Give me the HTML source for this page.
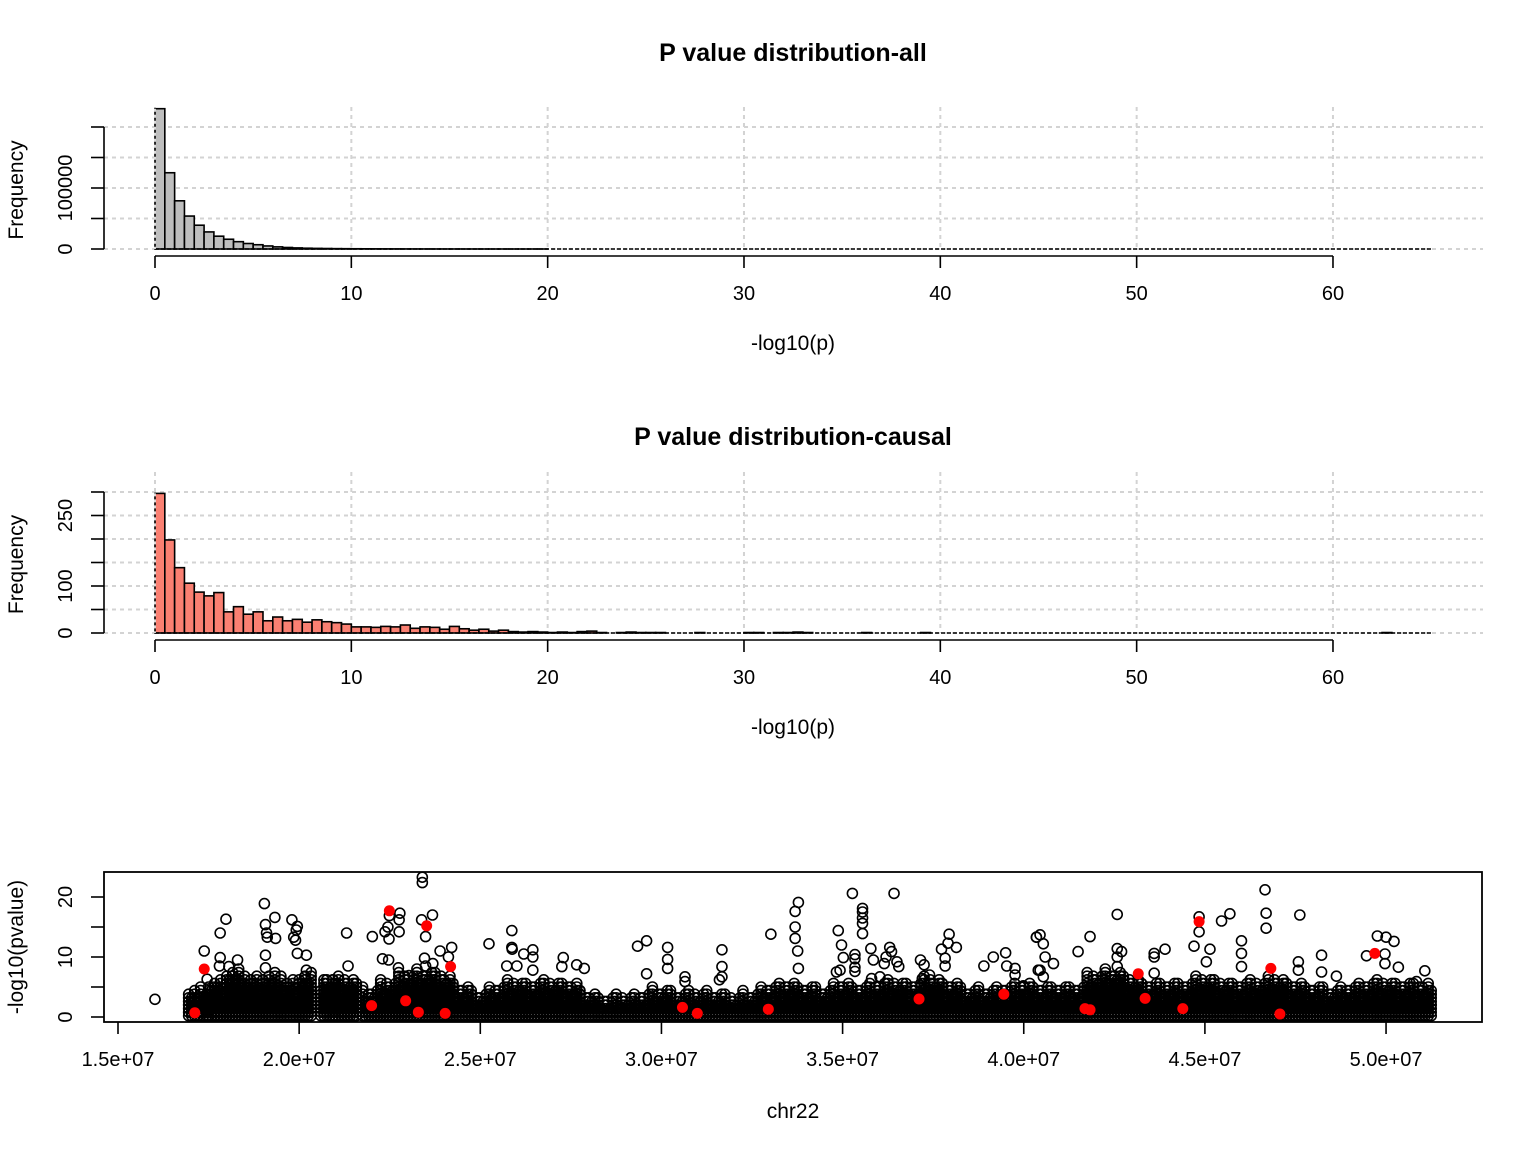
<!DOCTYPE html>
<html><head><meta charset="utf-8"><style>
html,body{margin:0;padding:0;background:#fff;}
svg{display:block;font-family:"Liberation Sans",Arial,sans-serif;}
</style></head><body>
<svg id="chart" width="1536" height="1152" viewBox="0 0 1536 1152" xmlns="http://www.w3.org/2000/svg">
<rect width="1536" height="1152" fill="#fff"/>
<g id="h1"></g>
<g id="h2"></g>
<g id="mh"></g>
</svg>
<script>
// ---- data ----
const binWidth = 0.5;
const allCounts = [230000,125000,79000,54000,39000,28000,21000,16000,12000,9000,7000,5000,3500,2500,1800,1300,1000,800,600,500,400,330,270,220,180,150,120,100,80,70,60,50,40,35,30,25,20,18,15,12];
const causalCounts = [297,198,139,106,87,79,86,45,56,40,45,26,34,26,29,23,28,24,22,19,13,13,12,14,13,17,10,13,12,8,14,9,6,8,4,6,3,2,3,2,1,2,1,3,4,1,0,1,2,1,1,1,0,0,0,1,0,0,0,0,1,1,0,1,1,2,1,0,0,0,0,0,1,0,0,0,0,0,1,0,0,0,0,0,0,0,0,0,0,0,0,0,0,0,0,0,0,0,0,0,0,0,0,0,0,0,0,0,0,0,0,0,0,0,0,0,0,0,0,0,0,0,0,0,0,1,0,0,0,0];
const histXTicks = [0,10,20,30,40,50,60];
const allYTicks = [0,50000,100000,150000,200000];
const allYLabels = ["0","","100000","",""];
const causalYTicks = [0,50,100,150,200,250,300];
const causalYLabels = ["0","","100","","","250",""];
// Manhattan: positions in Mb, values -log10(p)
const outPos = [16.02,17.38,17.46,17.82,17.98,17.82,17.8,18.06,18.3,19.04,19.07,19.1,19.12,19.35,19.33,19.07,19.07,19.8,19.95,19.85,19.9,19.92,19.95,20.2,20.2,20.15,21.31,21.35,20.76,20.94,22.02,22.37,22.48,22.45,22.78,22.76,22.76,22.49,22.3,22.47,22.74,22.9,23.03,23.4,23.4,23.38,23.68,23.49,23.46,23.49,23.69,23.89,24.21,24.12,25.24,25.87,25.87,25.88,26.2,26.45,26.45,25.73,26.01,26.45,27.29,27.25,27.66,27.87,29.34,29.59,29.59,30.17,30.17,30.17,30.65,30.65,31.67,31.67,31.67,31.6,33.02,33.69,33.78,33.69,33.69,33.76,33.78,35.27,35.55,35.55,35.55,35.55,35.55,34.88,34.97,35.02,34.93,34.83,35.34,35.34,35.34,35.34,35.78,35.85,36.03,35.8,36.42,36.3,36.35,36.2,36.15,36.5,36.55,37.15,37.25,37.4,37.2,37.94,37.91,37.73,38.14,37.83,37.83,39.5,39.16,38.9,39.53,39.76,39.76,39.99,40.35,40.4,40.35,40.45,40.54,40.59,40.82,40.45,40.54,41.83,41.5,42.58,42.58,42.58,42.7,42.58,43.6,43.6,43.9,43.6,44.84,44.84,44.7,45.46,45.69,45.14,45.04,46.01,46.01,46.01,46.66,46.69,46.69,47.62,47.58,47.58,48.22,48.22,48.63,49.76,50.0,50.22,49.97,49.46,49.97,50.34,51.07,50.84];
const outVal = [2.95,11,6.3,14,16.3,9.9,8.5,8.4,9.5,18.9,15.4,14,13.3,13.1,16.6,10.3,8.2,16.2,15.1,13.3,12.8,14.5,10.6,10.3,7.8,6.7,14,8.5,6.2,6.2,13.4,14.2,13,15,17.3,16.2,14.2,16.9,9.7,9.5,8.2,6.7,6.9,23.3,22.4,16.2,17,13.4,9.8,8.5,8.9,11,11.6,10,12.2,14.4,11.6,11.3,10.5,11.2,10,8.5,8.5,7.8,9.9,8.4,8.7,8.1,11.8,12.7,7.2,11.6,9.6,8.1,6.7,5.9,11.2,8.4,6.7,6.2,13.8,17.6,19.1,15,13.1,11,8.1,20.6,18.1,17.5,16.5,15.6,13.9,14.4,12,9.9,7.8,7.5,10.4,9.7,8.3,7.6,11.4,9.5,6.7,6.4,20.6,11.6,10.9,10,8.9,9.2,8.4,9.5,8.7,7,6.4,13.8,12.3,11.3,11.6,9.8,8.5,10.7,10,8.5,8.5,8.1,7,5.2,13.3,7.8,13.3,13.7,12.2,10,8.9,7.8,6.7,13.4,10.9,17.1,11.4,10,10.9,8.4,10,10.6,11.3,7.3,16.7,14.2,11.8,16,17.2,11.3,9.2,12.7,10.6,8.4,21.2,17.3,14.8,17,9.2,7.8,10.3,7.5,6.8,13.5,13.3,12.6,10.5,10.2,8.9,8.3,7.7,5.9];
const causalPos = [17.12,17.38,22.0,22.49,22.94,23.29,23.52,24.18,24.03,30.58,30.99,32.95,37.11,39.45,41.69,41.83,43.16,43.35,44.39,44.84,46.82,47.07,49.69];
const causalVal = [0.7,8.0,1.9,17.7,2.7,0.8,15.2,8.4,0.6,1.6,0.6,1.3,3.0,3.8,1.4,1.2,7.2,3.1,1.4,15.9,8.1,0.5,10.6];
// dense band bins: [startMb, endMb, upper envelope value]
const bandStart = [16.95,17.5,18.0,18.5,19.0,19.5,20.0,20.6,21.0,21.75,22.25,22.75,23.25,23.75,24.25,24.75,25.25,25.75,26.25,26.75,27.25,27.75,28.25,28.75,29.25,29.75,30.25,30.75,31.25,31.75,32.25,32.75,33.25,33.75,34.25,34.75,35.25,35.75,36.25,36.75,37.25,37.75,38.25,38.75,39.25,39.75,40.25,40.75,41.25,41.75,42.25,42.75,43.25,43.75,44.25,44.75,45.25,45.75,46.25,46.75,47.25,47.75,48.25,48.75,49.25,49.75,50.25,50.75];
const bandEnd = [17.5,18.0,18.5,19.0,19.5,20.0,20.4,21.0,21.6,22.25,22.75,23.25,23.75,24.25,24.75,25.25,25.75,26.25,26.75,27.25,27.75,28.25,28.75,29.25,29.75,30.25,30.75,31.25,31.75,32.25,32.75,33.25,33.75,34.25,34.75,35.25,35.75,36.25,36.75,37.25,37.75,38.25,38.75,39.25,39.75,40.25,40.75,41.25,41.75,42.25,42.75,43.25,43.75,44.25,44.75,45.25,45.75,46.25,46.75,47.25,47.75,48.25,48.75,49.25,49.75,50.25,50.75,51.25];
const bandTop = [4,5.5,7,6,6.5,5.5,6.5,6,6,4,5.5,6.5,7,6.5,4.5,3.5,4.5,5.5,5,5.5,5,3.5,2.8,3,3.2,4,3.5,3.8,3.5,3,3.5,4.5,5,4.5,4,5,4.5,5,5.5,5,6,5,4,4,4.5,5,4.5,4.5,4.5,6.5,7,6,5,5,5,6,5.5,5,5.5,6,5,4.5,4,4.5,5,5.5,5,5];
const mXTicks = [15,20,25,30,35,40,45,50];
const mXLabels = ["1.5e+07","2.0e+07","2.5e+07","3.0e+07","3.5e+07","4.0e+07","4.5e+07","5.0e+07"];
const mYTicks = [0,5,10,15,20];
const mYLabels = ["0","","10","","20"];

const NS = "http://www.w3.org/2000/svg";
function mk(parent, tag, attrs, text){
  const e = document.createElementNS(NS, tag);
  for (const k in attrs) e.setAttribute(k, attrs[k]);
  if (text !== undefined) e.textContent = text;
  parent.appendChild(e);
  return e;
}
const FS = 20;

function histogram(gid, counts, yTicks, yLabels, fill, base, yScale, yTop, titleY, title){
  const g = document.getElementById(gid);
  const xs = v => 155 + v * 19.633;
  const ys = v => base - v * yScale;
  const gridTop = ys(yTicks[yTicks.length-1]) - 20;
  for (const t of yTicks){
    const l = mk(g,'line',{x1:104,x2:1483,y1:ys(t),y2:ys(t),stroke:'#d3d3d3','stroke-width':2,'stroke-dasharray':'4,4'});
    
    
  }
  for (const t of histXTicks){
    const l = mk(g,'line',{x1:xs(t),x2:xs(t),y1:gridTop,y2:base,stroke:'#d3d3d3','stroke-width':2,'stroke-dasharray':'4,4'});
    
    
  }
  counts.forEach((c,i)=>{
    if (c <= 0) return;
    const y = Math.max(ys(c), yTop);
    const r = mk(g,'rect',{x:xs(i*binWidth),y:y,width:xs(binWidth)-xs(0),height:base-y,fill:fill,stroke:'#000','stroke-width':1.6});
    
    
  });
  const bl = mk(g,'line',{x1:155,x2:xs(65),y1:base,y2:base,stroke:'#000','stroke-width':1.6,'stroke-dasharray':'4,2'});
  
  
  const vl = mk(g,'line',{x1:155,x2:155,y1:ys(counts[0]),y2:base,stroke:'#fff','stroke-width':1.6,'stroke-dasharray':'3,3'});
  
  
  const ya = mk(g,'line',{x1:104,x2:104,y1:ys(yTicks[0]),y2:ys(yTicks[yTicks.length-1]),stroke:'#000','stroke-width':1.6});
  
  
  yTicks.forEach((t,i)=>{
    const tk = mk(g,'line',{x1:91,x2:104,y1:ys(t),y2:ys(t),stroke:'#000','stroke-width':1.6});
    
    
    if (yLabels[i]){
      const tx = mk(g,'text',{x:0,y:0,'font-size':FS,'text-anchor':'middle',transform:`translate(72,${ys(t)}) rotate(-90)`},yLabels[i]);
      
      
    }
  });
  const yt = mk(g,'text',{x:0,y:0,'font-size':FS+1,'text-anchor':'middle',transform:`translate(23,${(ys(yTicks[0])+ys(yTicks[yTicks.length-1]))/2+2}) rotate(-90)`},'Frequency');
  
  
  const ax = base + 7;
  const xa = mk(g,'line',{x1:xs(0),x2:xs(60),y1:ax,y2:ax,stroke:'#000','stroke-width':1.6});
  
  
  for (const t of histXTicks){
    const tk = mk(g,'line',{x1:xs(t),x2:xs(t),y1:ax,y2:ax+12,stroke:'#000','stroke-width':1.6});
    
    
    const tx = mk(g,'text',{x:xs(t),y:ax+44,'font-size':FS,'text-anchor':'middle'},String(t));
    
    
  }
  const xt = mk(g,'text',{x:793,y:ax+94,'font-size':FS+1,'text-anchor':'middle'},'-log10(p)');
  
  
  const tt = mk(g,'text',{x:793,y:titleY,'font-size':25,'font-weight':'bold','text-anchor':'middle'},title);
  
  
}
histogram('h1', allCounts, allYTicks, allYLabels, '#bebebe', 249, 61/100000, 95, 61, 'P value distribution-all');
histogram('h2', causalCounts, causalYTicks, causalYLabels, '#fa8072', 633, 0.47, 480, 445, 'P value distribution-causal');

(function(){
  const g = document.getElementById('mh');
  const xs = v => 118 + (v - 15) * 36.23;
  const ys = v => 1017 - v * 6;
  const band = mk(g,'g',{});
  
  
  let col = 0;
  bandStart.forEach((s,i)=>{
    for (let p = xs(s); p <= xs(bandEnd[i]); p += 3, col++){
      const jig = [0,-0.8,0.6,-0.4,1.0,-1.2,0.3][col % 7];
      const top = bandTop[i] + jig;
      for (let v = 0.2; v <= top; v += 0.6){
        mk(band,'circle',{cx:p,cy:ys(v),r:5,fill:'none',stroke:'#000','stroke-width':1.6});
      }
    }
  });
  outPos.forEach((p,i)=>{
    const c = mk(g,'circle',{cx:xs(p),cy:ys(outVal[i]),r:5,fill:'none',stroke:'#000','stroke-width':1.6});
    
    
  });
  causalPos.forEach((p,i)=>{
    const c = mk(g,'circle',{cx:xs(p),cy:ys(causalVal[i]),r:5.5,fill:'#ff0000',stroke:'none'});
    
    
  });
  const box = mk(g,'rect',{x:104,y:872,width:1378,height:150,fill:'none',stroke:'#000','stroke-width':1.8});
  
  
  mXTicks.forEach((t,i)=>{
    const tk = mk(g,'line',{x1:xs(t),x2:xs(t),y1:1022,y2:1034,stroke:'#000','stroke-width':1.6});
    
    
    const tx = mk(g,'text',{x:xs(t),y:1066,'font-size':FS,'text-anchor':'middle'},mXLabels[i]);
    
    
  });
  mYTicks.forEach((t,i)=>{
    const tk = mk(g,'line',{x1:91,x2:104,y1:ys(t),y2:ys(t),stroke:'#000','stroke-width':1.6});
    
    
    if (mYLabels[i]){
      const tx = mk(g,'text',{x:0,y:0,'font-size':FS,'text-anchor':'middle',transform:`translate(72,${ys(t)}) rotate(-90)`},mYLabels[i]);
      
      
    }
  });
  const yt = mk(g,'text',{x:0,y:0,'font-size':FS+1,'text-anchor':'middle',transform:'translate(23,947) rotate(-90)'},'-log10(pvalue)');
  
  
  const xt = mk(g,'text',{x:793,y:1118,'font-size':FS+1,'text-anchor':'middle'},'chr22');
  
  
})();
</script>
</body></html>
